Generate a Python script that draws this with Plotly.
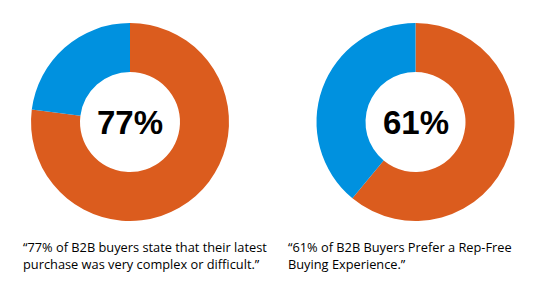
import plotly.graph_objects as go

W, H = 550, 294
labels = ["Yes", "No"]
left_values = [77, 23]
right_values = [61, 39]
center_labels = ["77%", "61%"]
captions = [
    "“77% of B2B buyers state that their latest<br>purchase was very complex or difficult.”",
    "“61% of B2B Buyers Prefer a Rep-Free<br>Buying Experience.”",
]
colors = ["#DB5C1E", "#0091DF"]

fig = go.Figure()

def dom(cx, cy, r):
    return dict(x=[(cx - r) / W, (cx + r) / W], y=[1 - (cy + r) / H, 1 - (cy - r) / H])

centers = [(130, 122), (415.5, 122)]
R = 99
for vals, (cx, cy) in zip([left_values, right_values], centers):
    fig.add_trace(go.Pie(
        labels=labels, values=vals, sort=False, direction="clockwise", rotation=0,
        hole=0.505, marker=dict(colors=colors, line=dict(width=0)),
        textinfo="none", hoverinfo="label+value", showlegend=False,
        domain=dom(cx, cy, R),
    ))

for txt, (cx, cy) in zip(center_labels, centers):
    fig.add_annotation(text="<b>" + txt + "</b>", x=cx / W, y=1 - cy / H, xref="paper", yref="paper",
                       showarrow=False, xanchor="center", yanchor="middle",
                       font=dict(family="Liberation Sans", size=33, color="#000000"))

for txt, x0 in zip(captions, [21, 286]):
    fig.add_annotation(text=txt, x=x0 / W, y=1 - 255 / H, xref="paper", yref="paper",
                       showarrow=False, xanchor="left", yanchor="middle", align="left",
                       font=dict(family="Open Sans", size=12.8, color="#000000"))

fig.update_layout(width=W, height=H, margin=dict(l=0, r=0, t=0, b=0),
                  paper_bgcolor="white", plot_bgcolor="white")
fig.write_html("out.html")
